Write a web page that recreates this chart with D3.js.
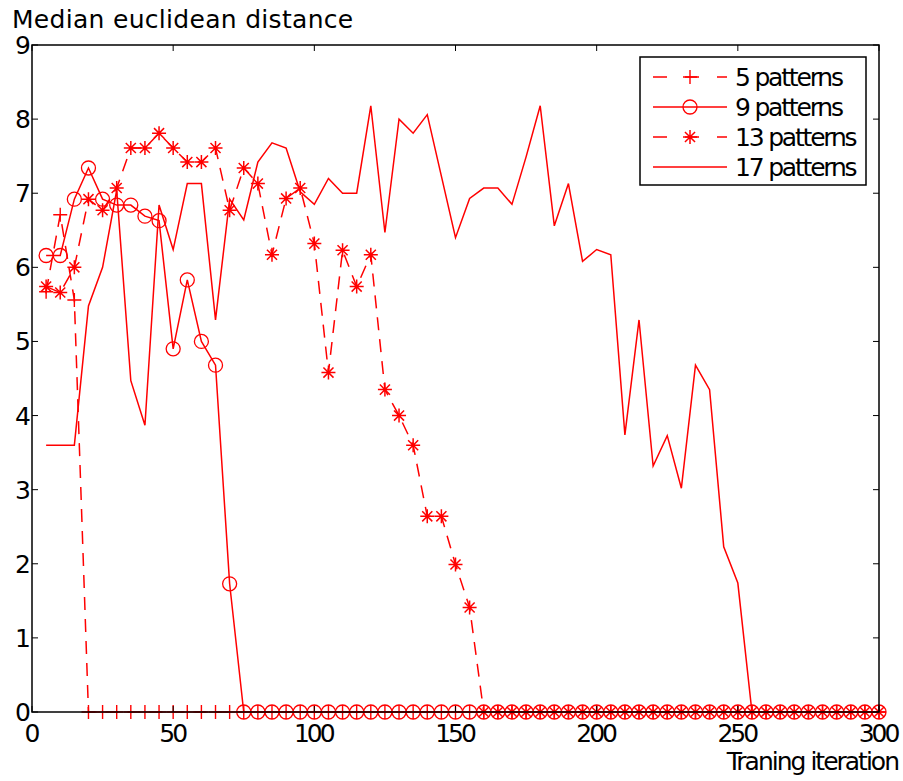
<!DOCTYPE html>
<html>
<head>
<meta charset="utf-8">
<script src="https://cdn.jsdelivr.net/npm/d3@7/dist/d3.min.js"></script>
<style>
  body { margin: 0; background: #fff; }
  text { font-family: "DejaVu Sans", sans-serif; }
</style>
</head>
<body>
<svg id="chart" width="903" height="781"></svg>
<script>
// training iterations (x), every 5 steps
const iterations = d3.range(5, 301, 5);

// series values; zeros fill the rest up to 300
const p5 = [5.67, 6.71, 5.56];
const p9 = [6.16, 6.16, 6.92, 7.34, 6.92, 6.84, 6.84, 6.69, 6.63, 4.90, 5.83, 5.00, 4.68, 1.73];
const p13 = [5.74, 5.66, 6.00, 6.92, 6.77, 7.07, 7.61, 7.61, 7.81, 7.61, 7.42, 7.42, 7.61, 6.77,
  7.34, 7.13, 6.17, 6.93, 7.07, 6.32, 4.58, 6.23, 5.74, 6.17, 4.35, 4.00, 3.60, 2.64, 2.64,
  1.99, 1.41];
const p17 = [3.60, 3.60, 3.60, 5.48, 6.00, 7.04, 4.47, 3.87, 6.84, 6.24, 7.13, 7.13, 5.29, 6.92,
  6.64, 7.42, 7.68, 7.61, 7.02, 6.85, 7.20, 7.00, 7.00, 8.18, 6.47, 8.00, 7.81, 8.06, 7.23,
  6.40, 6.93, 7.07, 7.07, 6.85, 7.49, 8.18, 6.56, 7.13, 6.08, 6.24, 6.17, 3.74, 5.29, 3.32,
  3.73, 3.02, 4.68, 4.35, 2.23, 1.74];

const xTicks = [0, 50, 100, 150, 200, 250, 300];
const yTicks = [0, 1, 2, 3, 4, 5, 6, 7, 8, 9];

// pad each series with zeros to the full length
const pad = vals => iterations.map((it, i) => [it, i < vals.length ? vals[i] : 0]);

const series = [
  {name: '5 patterns', data: pad(p5), dash: '13,9', marker: 'plus'},
  {name: '9 patterns', data: pad(p9), dash: null, marker: 'circle'},
  {name: '13 patterns', data: pad(p13), dash: '13,9', marker: 'aster'},
  {name: '17 patterns', data: pad(p17), dash: null, marker: null}
];

const svg = d3.select('#chart');
const x0 = 32, x1 = 879, y0 = 45, y1 = 712;
const red = '#ff0000';

const x = d3.scaleLinear().domain([0, 300]).range([x0, x1]);
const y = d3.scaleLinear().domain([0, 9]).range([y1, y0]);

// clip lines to the axes box
svg.append('clipPath').attr('id', 'clip')
  .append('rect').attr('x', x0).attr('y', y0 - 10)
  .attr('width', x1 - x0 + 10).attr('height', y1 - y0 + 20);

// draw markers
function drawMarker(g, type, cx, cy) {
  const s = 7;
  if (type === 'circle') {
    g.append('circle').attr('cx', cx).attr('cy', cy).attr('r', s)
      .attr('fill', 'none').attr('stroke', red).attr('stroke-width', 1.3);
  } else if (type === 'plus') {
    g.append('path').attr('d', `M${cx - s},${cy}H${cx + s}M${cx},${cy - s}V${cy + s}`)
      .attr('stroke', red).attr('stroke-width', 1.4);
  } else if (type === 'aster') {
    const d = s * 0.72;
    g.append('path')
      .attr('d', `M${cx - s},${cy}H${cx + s}M${cx},${cy - s}V${cy + s}` +
        `M${cx - d},${cy - d}L${cx + d},${cy + d}M${cx - d},${cy + d}L${cx + d},${cy - d}`)
      .attr('stroke', red).attr('stroke-width', 1.5);
  }
}

const line = d3.line().x(d => x(d[0])).y(d => y(d[1]));

series.forEach(s => {
  const g = svg.append('g').attr('clip-path', 'url(#clip)');
  g.append('path').datum(s.data)
    .attr('d', line)
    .attr('fill', 'none')
    .attr('stroke', red)
    .attr('stroke-width', 1.5)
    .attr('stroke-dasharray', s.dash);
  if (s.marker) s.data.forEach(d => drawMarker(g, s.marker, x(d[0]), y(d[1])));
});

// axes frame
svg.append('rect')
  .attr('x', x0).attr('y', y0)
  .attr('width', x1 - x0).attr('height', y1 - y0)
  .attr('fill', 'none').attr('stroke', '#000').attr('stroke-width', 1.5);

// ticks pointing inwards on all four sides
const tickLen = 6;
xTicks.forEach(t => {
  svg.append('line').attr('x1', x(t)).attr('x2', x(t)).attr('y1', y1).attr('y2', y1 - tickLen)
    .attr('stroke', '#000');
  svg.append('line').attr('x1', x(t)).attr('x2', x(t)).attr('y1', y0).attr('y2', y0 + tickLen)
    .attr('stroke', '#000');
  svg.append('text').attr('x', x(t) - 1).attr('y', 742)
    .attr('text-anchor', 'middle').attr('font-size', 25).attr('letter-spacing', -3).text(t);
});
yTicks.forEach(t => {
  svg.append('line').attr('x1', x0).attr('x2', x0 + tickLen).attr('y1', y(t)).attr('y2', y(t))
    .attr('stroke', '#000');
  svg.append('line').attr('x1', x1).attr('x2', x1 - tickLen).attr('y1', y(t)).attr('y2', y(t))
    .attr('stroke', '#000');
  svg.append('text').attr('x', 28).attr('y', y(t) + 9)
    .attr('text-anchor', 'end').attr('font-size', 25).attr('letter-spacing', -3).text(t);
});

// axis labels
svg.append('text').attr('x', 12).attr('y', 28).attr('font-size', 25).attr('letter-spacing', 0.3)
  .text('Median euclidean distance');
svg.append('text').attr('x', 898).attr('y', 770).attr('text-anchor', 'end').attr('font-size', 25)
  .attr('letter-spacing', -2).text('Traning iteration');

// legend
const legend = svg.append('g');
legend.append('rect').attr('x', 640).attr('y', 57).attr('width', 226).attr('height', 128)
  .attr('fill', '#fff').attr('stroke', '#000').attr('stroke-width', 1.5);
series.forEach((s, i) => {
  const ly = 77 + i * 30;
  legend.append('line').attr('x1', 653).attr('x2', 727).attr('y1', ly).attr('y2', ly)
    .attr('stroke', red).attr('stroke-width', 1.5).attr('stroke-dasharray', s.dash ? '14,18' : null);
  if (s.marker) drawMarker(legend, s.marker, 690, ly);
  legend.append('text').attr('x', 735).attr('y', ly + 8.5).attr('font-size', 25)
    .attr('letter-spacing', -2.2).text(s.name);
});
</script>
</body>
</html>
